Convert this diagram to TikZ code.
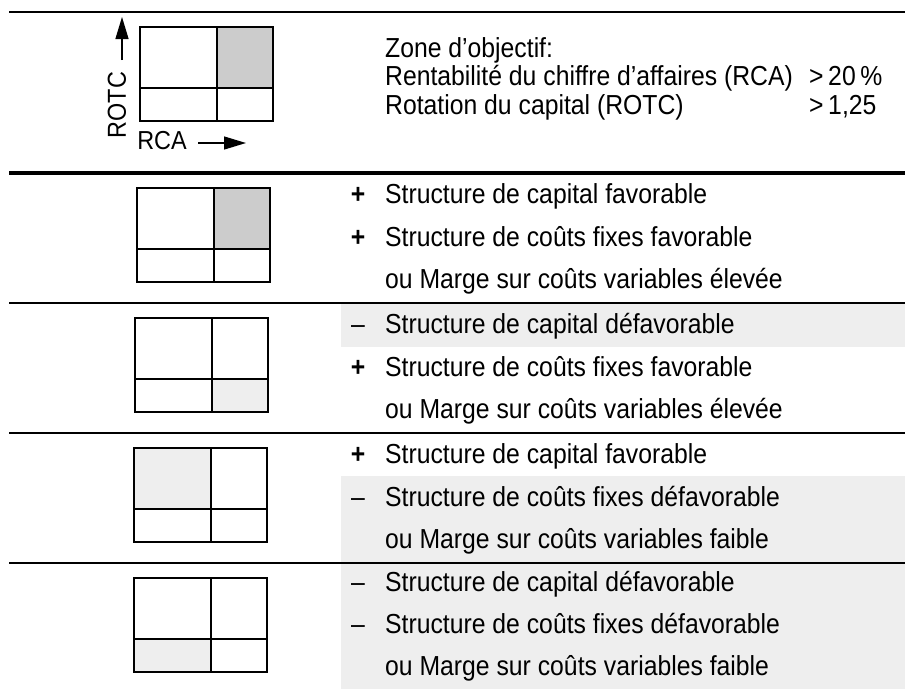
\documentclass[tikz,border=0pt]{standalone}
\usepackage{fontspec}
\setmainfont{Liberation Sans}[FakeStretch=0.9]
\usetikzlibrary{arrows.meta}
\usetikzlibrary{positioning}
\definecolor{grisfonce}{HTML}{CCCCCC}
\definecolor{grisclair}{HTML}{EEEEEE}
\tikzset{cadre/.style = {line width = 1.4pt}}
\tikzset{fleche/.style = {line width = 1.3pt, -{Triangle[length = 22pt, width = 13pt]}}}
\tikzset{ligne/.style = {anchor = base west, inner sep = 0}}
\tikzset{signe/.style = {anchor = base, inner sep = 0, font = \fontsize{27.5pt}{30pt}\selectfont\bfseries}}
\tikzset{bande/.style = {fill = grisclair}}
% grille 2x2 : x, y du coin haut gauche, remplissage
\newcommand{\grille}[3]{%
  \begin{scope}[shift = {(#1, #2)}]
    #3
    \draw [cadre] (0, 0) rectangle (133, 94);
    \draw [cadre] (77, 0) -- (77, 94) (0, 61) -- (133, 61);
  \end{scope}}

\begin{document}
\begin{tikzpicture}[x = 1pt, y = -1pt, font = \fontsize{27.5pt}{30pt}\selectfont]
      \useasboundingbox (0, 0) rectangle (905, 689);
      % bandes grises
      \fill [bande] (341, 303) rectangle (905, 347);
      \fill [bande] (341, 476) rectangle (905, 563);
      \fill [bande] (341, 563) rectangle (905, 689);
      % filets
      \draw [line width = 2pt] (9, 12) -- (905, 12);
      \draw [line width = 3.2pt] (9, 173) -- (905, 173);
      \foreach \y in {303, 433, 563}
        \draw [line width = 1.8pt] (9, \y) -- (905, \y);
      % zone d'objectif
      \grille{140}{27}{\fill [grisfonce] (77, 0) rectangle (133, 61);}
      \node [rotate = 90, font = \fontsize{26pt}{28pt}\selectfont] (rotc) at (117, 105) {ROTC};
      \node [font = \fontsize{26pt}{28pt}\selectfont] (rca) at (162, 141) {RCA};
      \coordinate (hautrotc) at (122, 17);
      \coordinate (basrotc) at (122, 60);
      \coordinate (debrca) at (198, 143);
      \coordinate (finrca) at (246, 143);
      \draw [fleche] (basrotc) -- (hautrotc);
      \draw [fleche] (debrca) -- (finrca);
      \node [ligne] (zone) at (385, 57) {Zone d’objectif:};
      \node [ligne] (rentab) at (385, 85) {Rentabilité du chiffre d’affaires (RCA)};
      \node [ligne] (rotat) at (385, 114) {Rotation du capital (ROTC)};
      \node [ligne] (vrca) at (809, 85) {>\,20\,\%};
      \node [ligne] (vrotc) at (809, 114) {>\,1,25};
      % cas 1
      \grille{137}{188}{\fill [grisfonce] (77, 0) rectangle (133, 61);}
      \node [signe] (s1a) at (358, 203) {+};
      \node [ligne] (t1a) at (385, 203) {Structure de capital favorable};
      \node [signe] (s1b) at (358, 246) {+};
      \node [ligne] (t1b) at (385, 246) {Structure de coûts fixes favorable};
      \node [ligne] (t1c) at (385, 288) {ou Marge sur coûts variables élevée};
      % cas 2
      \grille{135}{318}{\fill [grisclair] (77, 61) rectangle (133, 94);}
      \node [signe] (s2a) at (358, 333) {\mdseries –};
      \node [ligne] (t2a) at (385, 333) {Structure de capital défavorable};
      \node [signe] (s2b) at (358, 376) {+};
      \node [ligne] (t2b) at (385, 376) {Structure de coûts fixes favorable};
      \node [ligne] (t2c) at (385, 418) {ou Marge sur coûts variables élevée};
      % cas 3
      \grille{134}{448}{\fill [grisclair] (0, 0) rectangle (77, 61);}
      \node [signe] (s3a) at (358, 463) {+};
      \node [ligne] (t3a) at (385, 463) {Structure de capital favorable};
      \node [signe] (s3b) at (358, 506) {\mdseries –};
      \node [ligne] (t3b) at (385, 506) {Structure de coûts fixes défavorable};
      \node [ligne] (t3c) at (385, 548) {ou Marge sur coûts variables faible};
      % cas 4
      \grille{134}{578}{\fill [grisclair] (0, 61) rectangle (77, 94);}
      \node [signe] (s4a) at (358, 591) {\mdseries –};
      \node [ligne] (t4a) at (385, 591) {Structure de capital défavorable};
      \node [signe] (s4b) at (358, 633) {\mdseries –};
      \node [ligne] (t4b) at (385, 633) {Structure de coûts fixes défavorable};
      \node [ligne] (t4c) at (385, 675) {ou Marge sur coûts variables faible};
    \end{tikzpicture}
\end{document}
